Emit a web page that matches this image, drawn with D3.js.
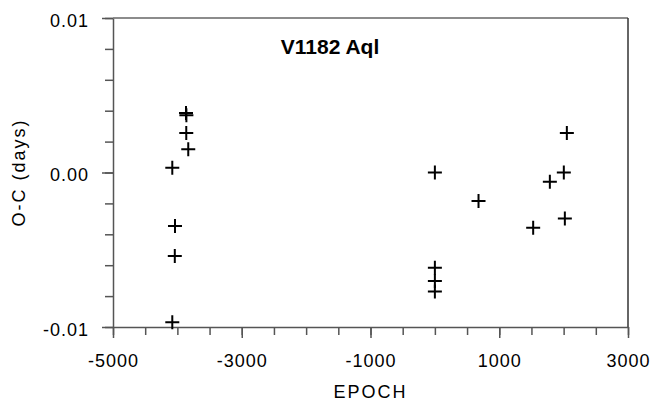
<!DOCTYPE html>
<html>
<head>
<meta charset="utf-8">
<script src="https://cdn.jsdelivr.net/npm/d3@7"></script>
<style>
	body { margin: 0; background: #fff; }
	text { font-family: "Liberation Sans", Arial, sans-serif; fill: #000; }
	.axis path, .axis line { stroke: #555; stroke-width: 1.5; }
	.axis text { font-size: 18px; letter-spacing: 1px; }
	.mark { stroke: #000; stroke-width: 2; fill: none; }
</style>
</head>
<body>
<svg></svg>
<script>
	var width = 669, height = 402;
	var margin = {left: 113, right: 41, top: 18, bottom: 75};

	// O-C data
	var epoch = [-4079, -3866, -3860, -3862, -3831, -4037, -4040, -4079,
		0, 678, 1786, 2003, 2019, 1527, 2050, 0, 0, 0];
	var oc = [0.00031, 0.00385, 0.0037, 0.00256, 0.0015, -0.00346, -0.0054, -0.0097,
		0.0, -0.00184, -0.0006, 0.0, -0.00297, -0.00357, 0.00256, -0.00616, -0.00702, -0.00771];
	var xTicks = [-5000, -3000, -1000, 1000, 3000];
	var yTicks = [-0.01, 0.00, 0.01];

	var svg = d3.select("svg").attr("width", width).attr("height", height);

	var x = d3.scaleLinear().domain([-5000, 3000]).range([margin.left, width - margin.right]);
	var y = d3.scaleLinear().domain([-0.01, 0.01]).range([height - margin.bottom, margin.top]);

	// minor ticks
	svg.append("g").attr("class", "axis")
		.attr("transform", "translate(0," + y(-0.01) + ")")
		.call(d3.axisBottom(x).tickValues(d3.range(-5000, 3001, 500)).tickSize(8).tickFormat(""))
		.select(".domain").remove();
	svg.append("g").attr("class", "axis")
		.attr("transform", "translate(" + x(-5000) + ",0)")
		.call(d3.axisLeft(y).tickValues(d3.range(-0.01, 0.0101, 0.002)).tickSize(8).tickFormat(""))
		.select(".domain").remove();

	// major ticks + labels
	svg.append("g").attr("class", "axis")
		.attr("transform", "translate(0," + y(-0.01) + ")")
		.call(d3.axisBottom(x).tickValues(xTicks).tickSize(11).tickSizeOuter(0).tickPadding(16).tickFormat(d => String(d)));

	svg.append("g").attr("class", "axis")
		.attr("transform", "translate(" + x(-5000) + ",0)")
		.call(d3.axisLeft(y).tickValues(yTicks).tickSize(11).tickSizeOuter(0).tickPadding(13).tickFormat(d => d.toFixed(2)))
		.selectAll("text").attr("dy", "0.45em");

	// frame top / right
	svg.append("line").attr("x1", x(-5000)).attr("x2", x(3000)).attr("y1", y(0.01)).attr("y2", y(0.01))
		.attr("stroke", "#666").attr("stroke-width", 1.5);
	svg.append("line").attr("x1", x(3000)).attr("x2", x(3000)).attr("y1", y(0.01)).attr("y2", y(-0.01))
		.attr("stroke", "#333").attr("stroke-width", 1.5);

	// crosses
	svg.selectAll(".mark").data(d3.range(epoch.length)).enter()
		.append("path").attr("class", "mark")
		.attr("transform", i => "translate(" + x(epoch[i]) + "," + y(oc[i]) + ")")
		.attr("d", "M-7,0H7M0,-7V7");

	svg.append("text").attr("x", 330).attr("y", 54).attr("text-anchor", "middle")
		.style("font-size", "21px").style("font-weight", "bold").text("V1182 Aql");
	svg.append("text").attr("x", (x(-5000) + x(3000)) / 2).attr("y", 398).attr("text-anchor", "middle")
		.style("font-size", "18px").style("letter-spacing", "2px").text("EPOCH");
	svg.append("text").attr("transform", "translate(25," + y(0) + ") rotate(-90)").attr("text-anchor", "middle")
		.style("font-size", "18px").style("letter-spacing", "2px").text("O-C (days)");
</script>
</body>
</html>
